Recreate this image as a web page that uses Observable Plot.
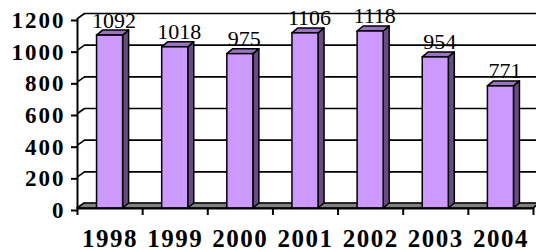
<!DOCTYPE html>
<html>
<head>
<meta charset="utf-8">
<script src="https://cdn.jsdelivr.net/npm/d3@7"></script>
<script src="https://cdn.jsdelivr.net/npm/@observablehq/plot@0.6"></script>
<style>
  html, body { margin: 0; padding: 0; background: #fff; }
  #chart svg { display: block; }
  g[aria-label="y-axis tick label"] text { letter-spacing: 2px; }
  g[aria-label="text"].xlab text { letter-spacing: 1.5px; }
</style>
</head>
<body>
<div id="chart"></div>
<script>
// ---- data ----
const years = ["1998", "1999", "2000", "2001", "2002", "2003", "2004"];
const counts = [1092, 1018, 975, 1106, 1118, 954, 771];
const yTicks = [0, 200, 400, 600, 800, 1000, 1200];

const data = years.map((year, i) => ({year, i, value: counts[i]}));

// ---- layout & style ----
const FRONT = "#CC99FF", TOP = "#9973BF", SIDE = "#664C80", FLOOR = "#808080";
const W = 536, H = 250;
const mL = 77, mR = 3, mT = 18, mB = 42;
const N = years.length, YMAX = 1200;
const pxX = (W - mL - mR) / N;        // px per category unit
const pxY = (H - mT - mB) / YMAX;     // px per value unit
// oblique depth, given in px and converted to scale units
const wallDx = 7 / pxX, wallDy = 5 / pxY;
const barDx = 6 / pxX, barDy = 5 / pxY;
const BAR_L = 0.3, BAR_R = 0.7;       // bar occupies 40% of its category
const SERIF = "'Liberation Serif', 'Times New Roman', serif";

const boundaries = d3.range(N + 1);
const floorPts = [
  {y: 0, x1: 0, x2: N},
  {y: wallDy, x1: wallDx, x2: N + wallDx}
];
const sidePts = data.flatMap(d => [
  {year: d.year, x: d.i + BAR_R, y1: 0, y2: d.value},
  {year: d.year, x: d.i + BAR_R + barDx, y1: barDy, y2: d.value + barDy}
]);
const topPts = data.flatMap(d => [
  {year: d.year, y: d.value, x1: d.i + BAR_L, x2: d.i + BAR_R},
  {year: d.year, y: d.value + barDy, x1: d.i + BAR_L + barDx, x2: d.i + BAR_R + barDx}
]);

const chart = Plot.plot({
  width: W,
  height: H,
  marginLeft: mL,
  marginRight: mR,
  marginTop: mT,
  marginBottom: mB,
  style: {fontFamily: SERIF, background: "white", color: "black", overflow: "visible"},
  x: {type: "linear", domain: [0, N], axis: null},
  y: {domain: [0, YMAX], label: null},
  marks: [
    // back wall gridlines
    Plot.ruleY(yTicks, {x1: wallDx, x2: N + wallDx + 0.5, y: t => t + wallDy, stroke: "black", strokeWidth: 1.6}),
    // left wall gridlines
    Plot.link(yTicks, {x1: 0, y1: t => t, x2: wallDx, y2: t => t + wallDy, stroke: "black", strokeWidth: 1.6}),
    // floor
    Plot.areaX(floorPts, {y: "y", x1: "x1", x2: "x2", fill: FLOOR, stroke: "black", strokeWidth: 1.6}),
    // bar side & top faces
    Plot.areaY(sidePts, {x: "x", y1: "y1", y2: "y2", z: "year", fill: SIDE, stroke: "black", strokeWidth: 1.5, strokeLinejoin: "round"}),
    Plot.areaX(topPts, {y: "y", x1: "x1", x2: "x2", z: "year", fill: TOP, stroke: "black", strokeWidth: 1.5, strokeLinejoin: "round"}),
    // bar front faces
    Plot.rectY(data, {x1: d => d.i + BAR_L, x2: d => d.i + BAR_R, y: "value", fill: FRONT, stroke: "black", strokeWidth: 1.5}),
    // front axes
    Plot.ruleX([0], {y1: 0, y2: YMAX, stroke: "black", strokeWidth: 2}),
    Plot.ruleY([0], {x1: 0, x2: N, stroke: "black", strokeWidth: 2}),
    Plot.axisY({ticks: yTicks, tickFormat: d => String(d), label: null, tickSize: 6, tickPadding: 6, strokeWidth: 2, fontSize: 23, fontWeight: "bold", dy: 2}),
    Plot.axisX({ticks: boundaries, tickFormat: () => "", label: null, tickSize: 7, strokeWidth: 2}),
    // category labels
    Plot.text(data, {x: d => d.i + 0.5, y: 0, text: "year", dy: 38, lineAnchor: "bottom", fontSize: 25, fontWeight: "bold", className: "xlab"}),
    // value labels
    Plot.text(data, {x: d => d.i + 0.5, y: "value", text: d => String(d.value), dx: 4, dy: -8, lineAnchor: "bottom", fontSize: 22, fontWeight: "normal", fill: "black"})
  ]
});
document.getElementById("chart").appendChild(chart);
</script>
</body>
</html>
